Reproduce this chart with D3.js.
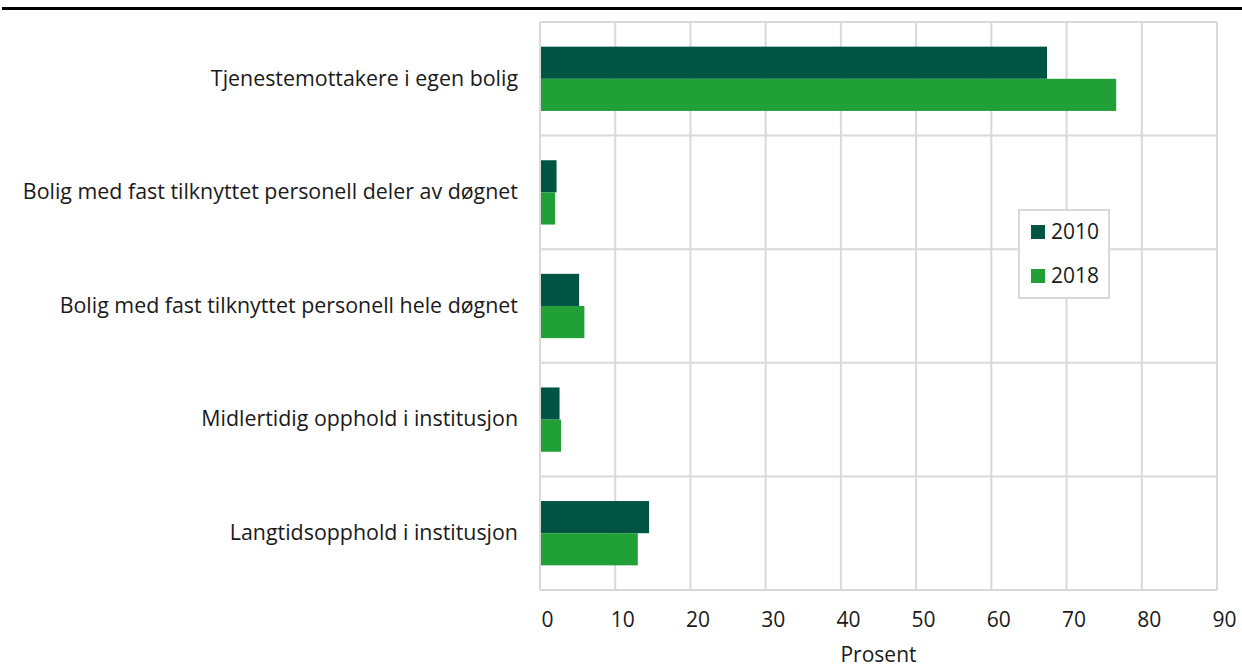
<!DOCTYPE html>
<html>
<head>
<meta charset="utf-8">
<script src="https://cdn.jsdelivr.net/npm/d3@7"></script>
<style>
  html, body { margin: 0; padding: 0; background: #fff; }
  svg { display: block; font-family: "Open Sans", "Noto Sans", sans-serif; }
</style>
</head>
<body>
<svg id="chart" width="1242" height="668"></svg>
<script>
const categories = [
  "Tjenestemottakere i egen bolig",
  "Bolig med fast tilknyttet personell deler av døgnet",
  "Bolig med fast tilknyttet personell hele døgnet",
  "Midlertidig opphold i institusjon",
  "Langtidsopphold i institusjon"
];
const seriesNames = ["2010", "2018"];
const values2010 = [67.4, 2.2, 5.2, 2.6, 14.5];
const values2018 = [76.6, 2.0, 5.9, 2.8, 13.0];
const xTicks = [0, 10, 20, 30, 40, 50, 60, 70, 80, 90];
const xTitle = "Prosent";
const colors = ["#005443", "#21a038"];

const svg = d3.select("#chart");
const margin = { left: 540, right: 25, top: 22, bottom: 78 };
const W = 1242, H = 668;
const innerW = W - margin.left - margin.right;
const innerH = H - margin.top - margin.bottom;

// top black rule
svg.append("rect").attr("x", 2).attr("y", 7).attr("width", W - 2).attr("height", 3).attr("fill", "#000");

const g = svg.append("g").attr("transform", `translate(${margin.left},${margin.top})`);

const x = d3.scaleLinear().domain([0, 90]).range([0, innerW]);
const y = d3.scaleBand().domain(categories).range([0, innerH]).paddingInner(0).paddingOuter(0);
const inner = d3.scaleBand().domain(seriesNames).range([y.bandwidth() * 0.217, y.bandwidth() * 0.783]);

const gridColor = "#d9d9d9";
// vertical grid
g.append("g").selectAll("line").data(xTicks).join("line")
  .attr("x1", d => x(d)).attr("x2", d => x(d))
  .attr("y1", 0).attr("y2", innerH)
  .attr("stroke", gridColor).attr("stroke-width", 2);
// horizontal grid (band boundaries)
const bounds = [0, ...categories.map(c => y(c) + y.bandwidth())];
g.append("g").selectAll("line").data(bounds).join("line")
  .attr("x1", 0).attr("x2", innerW)
  .attr("y1", d => d).attr("y2", d => d)
  .attr("stroke", gridColor).attr("stroke-width", 2);

// bars
const data = categories.map((c, i) => ({ c, vals: [values2010[i], values2018[i]] }));
const grp = g.selectAll(".grp").data(data).join("g").attr("transform", d => `translate(0,${y(d.c)})`);
grp.selectAll("rect").data(d => d.vals.map((v, j) => ({ v, s: seriesNames[j], j })))
  .join("rect")
  .attr("x", x(0) + 1)
  .attr("y", d => inner(d.s))
  .attr("width", d => x(d.v) - x(0) - 1)
  .attr("height", inner.bandwidth())
  .attr("fill", d => colors[d.j]);

// category labels
const yAxis = d3.axisLeft(y).tickSize(0).tickPadding(22);
const ya = g.append("g").call(yAxis);
ya.select(".domain").remove();
ya.selectAll("text").attr("font-size", 21.4).attr("fill", "#1a1a1a").attr("font-family", "Open Sans");

// x axis tick labels
const xAxis = d3.axisBottom(x).tickValues(xTicks).tickSize(0).tickPadding(22).tickFormat(d3.format("d"));
const xa = g.append("g").attr("transform", `translate(7,${innerH})`).call(xAxis);
xa.select(".domain").remove();
xa.selectAll("text").attr("font-size", 21).attr("fill", "#1a1a1a").attr("font-family", "Open Sans");

// x title
svg.append("text").attr("x", margin.left + x(45)).attr("y", 662)
  .attr("text-anchor", "middle").attr("font-size", 21).attr("fill", "#1a1a1a").text(xTitle);

// legend
const lg = svg.append("g").attr("transform", "translate(1019,210)");
lg.append("rect").attr("width", 90).attr("height", 88).attr("fill", "#fff")
  .attr("stroke", gridColor).attr("stroke-width", 2);
seriesNames.forEach((s, i) => {
  lg.append("rect").attr("x", 12).attr("y", 15 + i * 44).attr("width", 14).attr("height", 14).attr("fill", colors[i]);
  lg.append("text").attr("x", 32).attr("y", 22 + i * 44).attr("dy", "0.35em")
    .attr("font-size", 21).attr("fill", "#1a1a1a").text(s);
});
</script>
</body>
</html>
